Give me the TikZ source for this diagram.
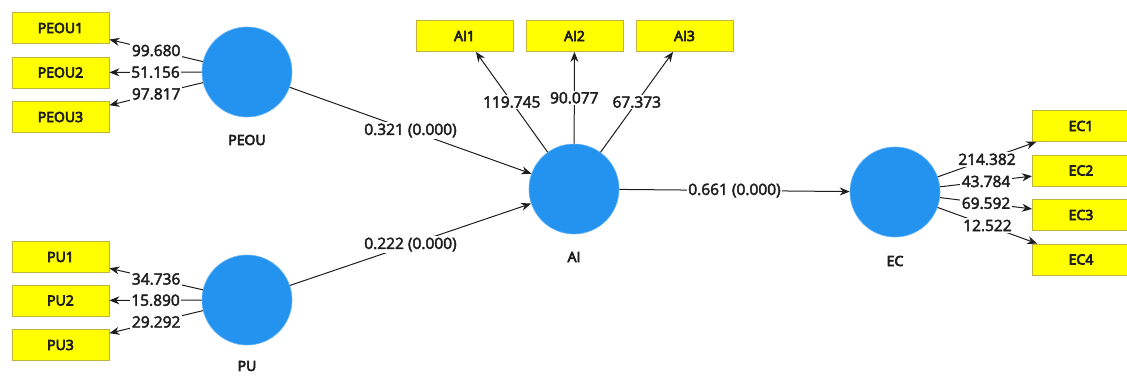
\documentclass[tikz,border=0pt]{standalone}
\usepackage{fontspec}
\setmainfont{Open Sans}
\usetikzlibrary{arrows.meta}
\newcommand\heavytext[2]{\special{pdf:literal direct #1 w 2 Tr}#2\special{pdf:literal direct 0 Tr}}
\definecolor{lvblue}{RGB}{36,147,240}
\definecolor{indfill}{RGB}{255,255,0}
\definecolor{indborder}{RGB}{190,180,60}
\definecolor{txt}{RGB}{30,30,30}
\begin{document}
\begin{tikzpicture}[x=1pt,y=-1pt,
  latent/.style={circle,fill=lvblue,draw=lvblue!70!white,line width=0.6pt,minimum size=90pt,inner sep=0pt},
  indicator/.style={rectangle,fill=indfill,draw=indborder,line width=0.8pt,minimum width=97pt,minimum height=31pt,inner sep=0pt,font=\fontsize{14}{16}\selectfont,text=txt},
  lab/.style={font=\fontsize{14}{16}\selectfont,text=txt},
  conn/.style={draw=txt,line width=1pt,-{Stealth[length=10pt,width=8pt]}},
  num/.style={fill=white,inner sep=1.5pt,font=\fontsize{15.5}{17}\selectfont,text=txt}]
\useasboundingbox (0,0) rectangle (1127,377);
% latent variables
\node[latent] (PEOU) at (247,72) {};
\node[latent] (PU) at (247,300) {};
\node[latent] (AI) at (574,189) {};
\node[latent] (EC) at (895,192) {};
\node[lab] (PEOUl) at (247,140) {\heavytext{0.7}{PEOU}};
\node[lab] (PUl) at (247,366) {\heavytext{0.7}{PU}};
\node[lab] (AIl) at (574,257) {\heavytext{0.7}{AI}};
\node[lab] (ECl) at (895,261) {\heavytext{0.7}{EC}};
% indicators
\node[indicator] (PEOU1) at (60.5,28) {\heavytext{0.7}{PEOU1}};
\node[indicator] (PEOU2) at (60.5,72.5) {\heavytext{0.7}{PEOU2}};
\node[indicator] (PEOU3) at (60.5,117) {\heavytext{0.7}{PEOU3}};
\node[indicator] (PU1) at (60.5,257) {\heavytext{0.7}{PU1}};
\node[indicator] (PU2) at (60.5,300.5) {\heavytext{0.7}{PU2}};
\node[indicator] (PU3) at (60.5,345) {\heavytext{0.7}{PU3}};
\node[indicator] (AI1) at (464.5,36) {\heavytext{0.7}{AI1}};
\node[indicator] (AI2) at (574.5,36) {\heavytext{0.7}{AI2}};
\node[indicator] (AI3) at (684.5,36) {\heavytext{0.7}{AI3}};
\node[indicator] (EC1) at (1081,126) {\heavytext{0.7}{EC1}};
\node[indicator] (EC2) at (1081,170.5) {\heavytext{0.7}{EC2}};
\node[indicator] (EC3) at (1081,215) {\heavytext{0.7}{EC3}};
\node[indicator] (EC4) at (1081,259.5) {\heavytext{0.7}{EC4}};
% outer loadings
\draw[conn] (PEOU) -- node[num] {\heavytext{0.45}{99.680}} (PEOU1);
\draw[conn] (PEOU) -- node[num] {\heavytext{0.45}{51.156}} (PEOU2);
\draw[conn] (PEOU) -- node[num] {\heavytext{0.45}{97.817}} (PEOU3);
\draw[conn] (PU) -- node[num] {\heavytext{0.45}{34.736}} (PU1);
\draw[conn] (PU) -- node[num] {\heavytext{0.45}{15.890}} (PU2);
\draw[conn] (PU) -- node[num] {\heavytext{0.45}{29.292}} (PU3);
\draw[conn] (AI) -- node[num] {\heavytext{0.45}{119.745}} (AI1);
\draw[conn] (AI) -- node[num] {\heavytext{0.45}{90.077}} (AI2);
\draw[conn] (AI) -- node[num] {\heavytext{0.45}{67.373}} (AI3);
\draw[conn] (EC) -- node[num] {\heavytext{0.45}{214.382}} (EC1);
\draw[conn] (EC) -- node[num] {\heavytext{0.45}{43.784}} (EC2);
\draw[conn] (EC) -- node[num] {\heavytext{0.45}{69.592}} (EC3);
\draw[conn] (EC) -- node[num] {\heavytext{0.45}{12.522}} (EC4);
% paths
\draw[conn] (PEOU) -- node[num] {\heavytext{0.45}{0.321 (0.000)}} (AI);
\draw[conn] (PU) -- node[num] {\heavytext{0.45}{0.222 (0.000)}} (AI);
\draw[conn] (AI) -- node[num] {\heavytext{0.45}{0.661 (0.000)}} (EC);
\end{tikzpicture}
\end{document}
